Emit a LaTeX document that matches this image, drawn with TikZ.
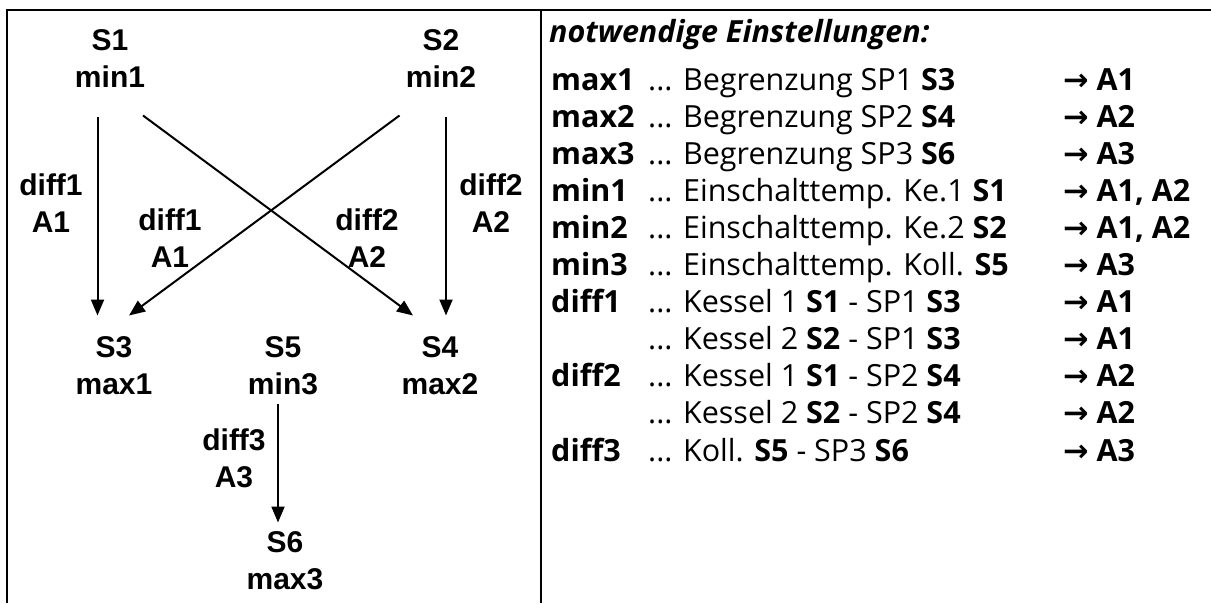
\documentclass[tikz,border=0pt]{standalone}
\usepackage{fontspec}
\setmainfont{Liberation Sans}
\newfontfamily\listfont{Open Sans}
\newfontfamily\arrowfont{DejaVu Sans}
\usetikzlibrary{arrows.meta,calc}

\begin{document}
\begin{tikzpicture}[x=1pt, y=-1pt,
    rule/.style={line width=2pt},
    sensor/.style={font=\fontsize{30}{37}\selectfont\bfseries, align=center, inner sep=0pt},
    setting/.style={font=\fontsize{30}{37}\selectfont\bfseries, align=center, inner sep=0pt},
    arr/.style={-{Triangle[length=16pt, width=13pt]}, line width=2pt},
    head/.style={font=\listfont\fontsize{30.5}{37}\selectfont\bfseries\itshape, anchor=base west, inner sep=0pt},
    key/.style={font=\listfont\fontsize{30.5}{37}\selectfont\bfseries, anchor=base west, inner sep=0pt},
    desc/.style={font=\listfont\fontsize{30.5}{37}\selectfont, anchor=base west, inner sep=0pt},
    result/.style={font=\listfont\fontsize{30.5}{37}\selectfont\bfseries, anchor=base west, inner sep=0pt}
]
    \useasboundingbox (0,0) rectangle (1211,603);
    % frame
    \draw[rule] (1211,10) -- (7,10) -- (7,603);
    \draw[rule] (541,10) -- (541,603);

    % sensors
    \node[sensor] (S1) at (110,58.5) {S1\\min1};
    \node[sensor] (S2) at (441,58.5) {S2\\min2};
    \node[sensor] (S3) at (114,365.5) {S3\\max1};
    \node[sensor] (S5) at (283,365.5) {S5\\min3};
    \node[sensor] (S4) at (440,365.5) {S4\\max2};
    \node[sensor] (S6) at (285,560.5) {S6\\max3};

    % arrow labels
    \node[setting] (d1o) at (51,203.5) {diff1\\A1};
    \node[setting] (d1i) at (170,238.5) {diff1\\A1};
    \node[setting] (d2i) at (367,238.5) {diff2\\A2};
    \node[setting] (d2o) at (491,203.5) {diff2\\A2};
    \node[setting] (d3) at (234,458.5) {diff3\\A3};

    % connectors
    \draw[arr] ($(S1)+(-12.5,58)$) -- ($(S3)+(-16.5,-50)$);
    \draw[arr] ($(S1)+(33,57)$) -- ($(S4)+(-27,-50)$);
    \draw[arr] ($(S2)+(-41.5,57)$) -- ($(S3)+(15,-50)$);
    \draw[arr] ($(S2)+(5,58)$) -- ($(S4)+(6,-50)$);
    \draw[arr] ($(S5)+(-5,38)$) -- ($(S6)+(-7,-38)$);

    % settings list
    \node[head] (title) at (549,42) {notwendige Einstellungen:};

    \node[key] (k0) at (551,90) {max1};
    \node[desc] (t0) at (648,90) {... Begrenzung SP1 \textbf{S3}};
    \node[result] (r0) at (1063,90) {{\arrowfont →} A1};

    \node[key] (k1) at (551,127.1) {max2};
    \node[desc] (t1) at (648,127.1) {... Begrenzung SP2 \textbf{S4}};
    \node[result] (r1) at (1063,127.1) {{\arrowfont →} A2};

    \node[key] (k2) at (551,164.2) {max3};
    \node[desc] (t2) at (648,164.2) {... Begrenzung SP3 \textbf{S6}};
    \node[result] (r2) at (1063,164.2) {{\arrowfont →} A3};

    \node[key] (k3) at (551,201.3) {min1};
    \node[desc] (t3) at (648,201.3) {... Einschalttemp. Ke.1 \textbf{S1}};
    \node[result] (r3) at (1063,201.3) {{\arrowfont →} A1, A2};

    \node[key] (k4) at (551,238.4) {min2};
    \node[desc] (t4) at (648,238.4) {... Einschalttemp. Ke.2 \textbf{S2}};
    \node[result] (r4) at (1063,238.4) {{\arrowfont →} A1, A2};

    \node[key] (k5) at (551,275.5) {min3};
    \node[desc] (t5) at (648,275.5) {... Einschalttemp. Koll. \textbf{S5}};
    \node[result] (r5) at (1063,275.5) {{\arrowfont →} A3};

    \node[key] (k6) at (551,312.6) {diff1};
    \node[desc] (t6) at (648,312.6) {... Kessel 1 \textbf{S1} - SP1 \textbf{S3}};
    \node[result] (r6) at (1063,312.6) {{\arrowfont →} A1};

    \node[desc] (t7) at (648,349.7) {... Kessel 2 \textbf{S2} - SP1 \textbf{S3}};
    \node[result] (r7) at (1063,349.7) {{\arrowfont →} A1};

    \node[key] (k8) at (551,386.8) {diff2};
    \node[desc] (t8) at (648,386.8) {... Kessel 1 \textbf{S1} - SP2 \textbf{S4}};
    \node[result] (r8) at (1063,386.8) {{\arrowfont →} A2};

    \node[desc] (t9) at (648,423.9) {... Kessel 2 \textbf{S2} - SP2 \textbf{S4}};
    \node[result] (r9) at (1063,423.9) {{\arrowfont →} A2};

    \node[key] (k10) at (551,461) {diff3};
    \node[desc] (t10) at (648,461) {... Koll. \textbf{S5} - SP3 \textbf{S6}};
    \node[result] (r10) at (1063,461) {{\arrowfont →} A3};
\end{tikzpicture}
\end{document}
